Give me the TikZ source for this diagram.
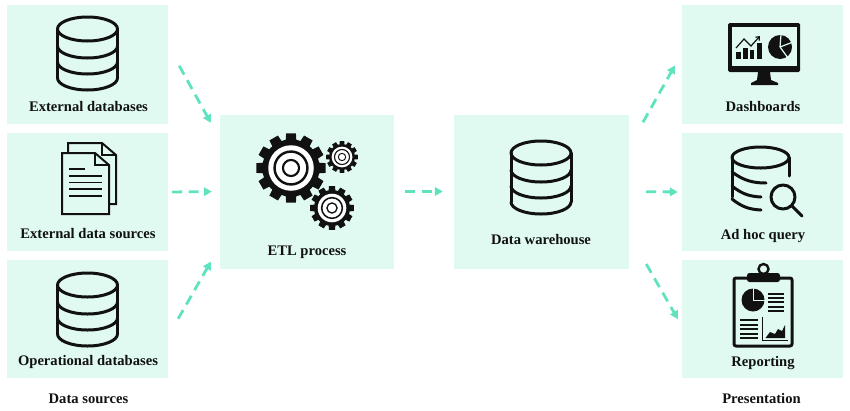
\documentclass[tikz,border=0pt]{standalone}
\usepackage{fontspec}
\setmainfont{Liberation Serif}
\usetikzlibrary{arrows.meta}
\definecolor{boxfill}{HTML}{E0FAF1}
\definecolor{flowgreen}{HTML}{5FE3BE}
\definecolor{inkblack}{HTML}{111111}
\tikzset{
  panel/.style={fill=boxfill,draw=none,inner sep=0pt,minimum width=#1},
  caption/.style={font=\fontsize{14.6}{16}\selectfont\bfseries,text=inkblack,inner sep=0pt,anchor=base},
  flow/.style={flowgreen,line width=2.8pt,dash pattern=on 10pt off 6.5pt,-{Triangle[length=8pt,width=8.5pt]}},
  iconline/.style={draw=inkblack,line width=3pt,line cap=round,line join=round},
  thinline/.style={draw=inkblack,line width=2pt,line join=miter},
}
\newcommand{\dbicon}[2]{
  \begin{scope}[shift={(#1,#2)},iconline]
    \draw (0,0) ellipse [x radius=30pt,y radius=12pt];
    \draw (-30,0)--(-30,49) (30,0)--(30,49);
    \foreach \y in {17,33,49}{
      \draw (-30,\y) arc [start angle=180,end angle=360,x radius=30pt,y radius=12pt];
    }
  \end{scope}
}
\newcommand{\gearicon}[3]{
  \begin{scope}[shift={(#1,#2)}]
    \fill[inkblack] (0,0) circle [radius=.82*#3pt];
    \foreach \a in {0,30,...,330}{
      \fill[inkblack] (\a-11:.8*#3) -- (\a-8:#3) -- (\a+8:#3) -- (\a+11:.8*#3) -- cycle;
    }
    \fill[white] (0,0) circle [radius=.65*#3pt];
    \draw[inkblack,line width=.07*#3pt] (0,0) circle [radius=.47*#3pt];
    \draw[inkblack,line width=.06*#3pt] (0,0) circle [radius=.23*#3pt];
  \end{scope}
}
\begin{document}
\begin{tikzpicture}[x=1pt,y=-1pt]
  \useasboundingbox (0,0) rectangle (850,410);
  \node [panel=161pt,minimum height=119pt] (extdb) at (87.5,64.5) {};
  \node [panel=161pt,minimum height=118pt] (extsrc) at (87.5,192) {};
  \node [panel=161pt,minimum height=118pt] (opdb) at (87.5,319) {};
  \node [panel=174pt,minimum height=154pt] (etl) at (307,191.5) {};
  \node [panel=175pt,minimum height=154pt] (dw) at (541.5,191.5) {};
  \node [panel=161pt,minimum height=119pt] (dash) at (762.5,64.5) {};
  \node [panel=161pt,minimum height=118pt] (query) at (762.5,192) {};
  \node [panel=161pt,minimum height=118pt] (report) at (762.5,319) {};
  \node [caption] (extdbtext) at (88.5,111) {External databases};
  \node [caption] (extsrctext) at (88,238) {External data sources};
  \node [caption] (opdbtext) at (88,365) {Operational databases};
  \node [caption] (etltext) at (307,255) {ETL process};
  \node [caption] (dwtext) at (541,244) {Data warehouse};
  \node [caption] (dashtext) at (763,111) {Dashboards};
  \node [caption] (querytext) at (763,239) {Ad hoc query};
  \node [caption] (reporttext) at (763,366) {Reporting};
  \node [caption] (sourcestext) at (88.5,403) {Data sources};
  \node [caption] (presenttext) at (761.5,403) {Presentation};
  \draw [flow,shorten <=22.8pt,shorten >=18.6pt] (extdb.13.6) -- (etl.149.3);
  \draw [flow,shorten <=4pt,shorten >=8pt] (extsrc.east) -- (etl.west);
  \draw [flow,shorten <=20pt,shorten >=18pt] (opdb.-12.1) -- (etl.212.3);
  \draw [flow,shorten <=11pt,shorten >=11pt] (etl.east) -- (dw.west);
  \draw [flow,shorten <=28.2pt,shorten >=14.1pt] (dw.27.2) -- (dash.172.4);
  \draw [flow,shorten <=17pt,shorten >=4pt] (dw.east) -- (query.west);
  \draw [flow,shorten <=34.3pt,shorten >=8pt] (dw.-26) -- (report.185.7);
  \dbicon{87.5}{29}
  \dbicon{87.5}{285}
  \dbicon{541}{153}
  % pages
  \draw [thinline,fill=boxfill] (68,143) -- (102,143) -- (116,155) -- (116,204) -- (68,204) -- cycle;
  \draw [thinline] (102,143) -- (102,155) -- (116,155);
  \draw [thinline,fill=boxfill] (62,153) -- (95,153) -- (109,165) -- (109,214) -- (62,214) -- cycle;
  \draw [thinline] (95,153) -- (95,165) -- (109,165);
  \draw [inkblack,line width=1.5pt] (69,169) -- (85,169);
  \foreach \y in {176,182.5,189,196}{
    \draw [inkblack,line width=1.5pt] (69,\y) -- (102,\y);
  }
  % gears
  \gearicon{291}{168}{35}
  \gearicon{342}{157}{16}
  \gearicon{332}{208}{22}
  % monitor
  \fill [inkblack,rounded corners=1.5pt] (728,23) rectangle (800,72);
  \fill [boxfill] (731.5,27) rectangle (796.5,66);
  \fill [inkblack] (758,72) -- (770,72) -- (771,80) -- (778,83) -- (778,85) -- (751,85) -- (751,83) -- (757,80) -- cycle;
  \foreach \x/\t in {736/52,743/48,749.5/50,757/43}{
    \fill [inkblack] (\x,\t) rectangle ++(4.5,59-\t);
  }
  \draw [inkblack,line width=1.2pt,-{Straight Barb[length=3pt,width=5pt]}] (736,48) -- (744,39) -- (751,46) -- (760,36);
  \fill [inkblack] (780,47) circle [radius=12pt];
  \draw [boxfill,line width=1.2pt] (780,47) -- ++(1,-13) (780,47) -- ++(13,-5) (780,47) -- ++(8,11);
  % magnifier database
  \begin{scope}[iconline]
    \draw (760.5,157.5) ellipse [x radius=28.5pt,y radius=10.5pt];
    \draw (789,157.5) -- (789,176);
    \draw (732,157.5) -- (732,197);
    \draw (732,172) to [bend right=18] (766,183);
    \draw (732,186) to [bend right=18] (761,197);
    \draw (732,199) to [bend right=18] (761,210);
    \draw (783,197) circle [radius=12pt];
    \draw (792,206) -- (802,216);
  \end{scope}
  % clipboard
  \draw [iconline,rounded corners=2pt] (747,278) -- (734,278) -- (734,346) -- (792,346) -- (792,278) -- (780,278);
  \draw [inkblack,line width=2.4pt] (763.5,269) circle [radius=5pt];
  \fill [inkblack,rounded corners=2.5pt] (747,273) rectangle (780,282);
  \fill [inkblack] (753,300) circle [radius=11.5pt];
  \draw [boxfill,line width=1pt] (753,300) -- (753,288) (753,300) -- (765,300);
  \foreach \y in {294,298,302,306.5,311}{
    \draw [inkblack,line width=2pt] (768,\y) -- (784,\y);
  }
  \foreach \y in {320,324.5,329,333.5,338}{
    \draw [inkblack,line width=2pt] (740,\y) -- (758,\y);
  }
  \draw [inkblack,line width=1pt] (762,317) -- (762,340) -- (788,340);
  \fill [inkblack] (765.5,338) -- (770,332) -- (775,334) -- (778,329) -- (782,331) -- (785,325) -- (785,338) -- cycle;
\end{tikzpicture}
\end{document}
